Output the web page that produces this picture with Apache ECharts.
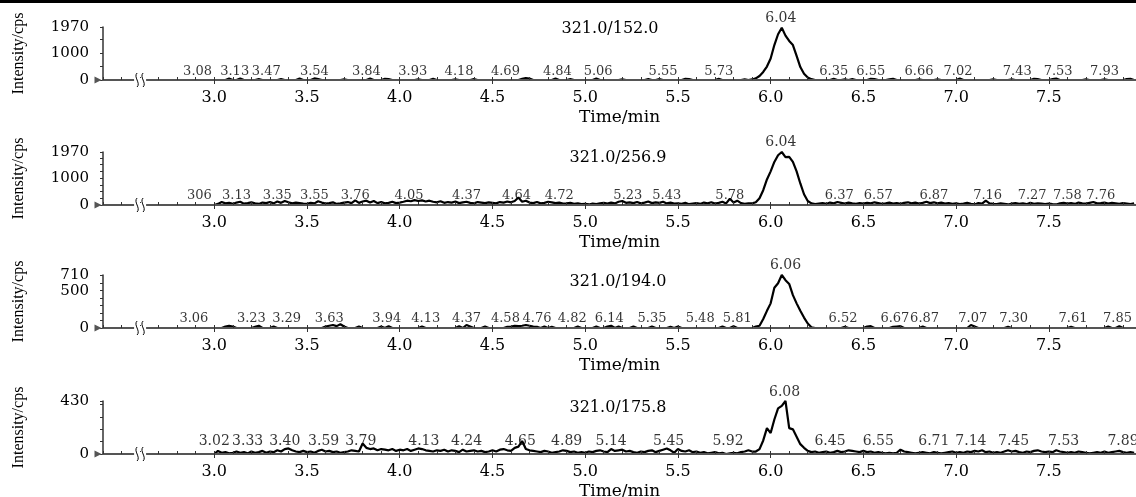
<!DOCTYPE html>
<html>
<head>
<meta charset="utf-8">
<title>MRM chromatograms</title>
<script src="https://cdn.jsdelivr.net/npm/echarts@6/dist/echarts.min.js"></script>
<style>
  html, body { margin: 0; padding: 0; background: #fff; }
  #chart { width: 1136px; height: 497px; }
</style>
</head>
<body>
<div id="chart"></div>
<script>
// acquisition: first scan at 3.00 min, one point every 0.02 min
const scanStart = 3.0;
const scanStep = 0.02;

const transitions = ['321.0/152.0', '321.0/256.9', '321.0/194.0', '321.0/175.8'];
const xLabels = [3.0, 3.5, 4.0, 4.5, 5.0, 5.5, 6.0, 6.5, 7.0, 7.5];
const yMax = [1970, 1970, 710, 430];
const yLabels1 = [0, 1000, 1970];
const yLabels2 = [0, 1000, 1970];
const yLabels3 = [0, 500, 710];
const yLabels4 = [0, 430];
const yTicks1 = [0, 500, 1000, 1500, 1970];
const yTicks2 = [0, 250, 500, 750, 1000, 1250, 1500, 1750, 1970];
const yTicks3 = [0, 100, 200, 300, 400, 500, 600, 700, 710];
const yTicks4 = [0, 100, 200, 300, 400, 430];

// intensity (cps), one row = 0.5 min
const trace1 = [
  0, 0, 0, 0, 50, 0, 0, 60, 0, 0, 0, 0, 30, 0, 0, 0, 0, 0, 30, 0, 0, 0, 0, 50, 0,
  0, 0, 60, 30, 0, 0, 0, 0, 0, 0, 20, 0, 0, 0, 0, 0, 0, 50, 0, 0, 0, 40, 30, 0, 0,
  0, 0, 0, 0, 0, 20, 0, 0, 0, 40, 0, 0, 0, 0, 0, 20, 0, 0, 0, 0, 30, 0, 0, 0, 0,
  0, 0, 0, 0, 0, 0, 0, 0, 40, 70, 50, 0, 0, 0, 0, 0, 0, 50, 0, 0, 0, 30, 0, 0, 0,
  0, 0, 0, 60, 0, 0, 0, 0, 0, 0, 20, 0, 0, 0, 0, 0, 0, 30, 0, 0, 30, 0, 0, 0, 0,
  0, 0, 40, 30, 0, 0, 0, 0, 0, 0, 0, 40, 0, 0, 0, 0, 0, 0, 20, 0, 20, 60, 150, 300, 500,
  800, 1300, 1700, 1940, 1650, 1450, 1300, 900, 480, 230, 90, 30, 0, 0, 0, 0, 0, 40, 0, 0, 20, 0, 30, 0, 0,
  0, 0, 40, 30, 0, 0, 0, 20, 40, 0, 0, 0, 0, 0, 0, 20, 0, 0, 0, 0, 20, 0, 0, 0, 0,
  0, 50, 0, 0, 0, 0, 0, 0, 0, 0, 20, 0, 0, 0, 0, 20, 0, 0, 0, 0, 0, 40, 30, 0, 0,
  0, 30, 50, 0, 0, 0, 0, 0, 0, 0, 20, 0, 0, 0, 0, 20, 0, 0, 0, 0, 0, 30, 40, 0
];
const trace2 = [
  0, 40, 110, 60, 80, 40, 90, 120, 50, 70, 100, 60, 40, 90, 70, 110, 60, 130, 80, 150, 100, 60, 90, 70, 50,
  40, 80, 60, 140, 90, 50, 70, 100, 40, 60, 90, 110, 70, 170, 80, 130, 160, 90, 150, 70, 110, 60, 80, 120, 70,
  90, 120, 160, 140, 180, 150, 170, 130, 160, 120, 100, 140, 80, 110, 90, 130, 70, 100, 120, 80, 60, 110, 90, 70, 100,
  80, 60, 110, 90, 130, 100, 150, 280, 120, 160, 90, 70, 110, 60, 80, 120, 100, 70, 90, 50, 60, 80, 40, 60, 30,
  40, 20, 50, 30, 60, 80, 50, 90, 60, 120, 150, 80, 100, 70, 110, 60, 90, 130, 70, 100, 80, 120, 60, 90, 50,
  60, 40, 80, 30, 50, 70, 40, 90, 60, 100, 50, 80, 120, 60, 230, 90, 160, 70, 40, 60, 60, 100, 250, 550, 950,
  1250, 1600, 1850, 1970, 1780, 1790, 1600, 1250, 800, 400, 150, 60, 30, 50, 70, 40, 90, 60, 110, 80, 50, 90, 60, 40, 70,
  50, 80, 60, 100, 70, 40, 60, 90, 50, 70, 40, 80, 100, 60, 90, 50, 80, 120, 70, 100, 60, 90, 50, 70, 40,
  60, 30, 50, 80, 40, 20, 70, 50, 160, 60, 40, 30, 60, 40, 20, 50, 70, 40, 60, 30, 80, 40, 60, 50, 30,
  50, 30, 20, 60, 80, 50, 70, 40, 90, 60, 50, 80, 110, 60, 70, 90, 50, 80, 60, 40, 70, 50, 30, 60
];
const trace3 = [
  0, 0, 0, 20, 30, 20, 0, 0, 0, 0, 0, 15, 30, 0, 0, 0, 20, 0, 0, 0, 0, 0, 0, 0, 0,
  0, 0, 0, 0, 0, 20, 30, 40, 25, 50, 20, 0, 0, 0, 20, 0, 0, 0, 0, 0, 20, 0, 25, 0, 0,
  0, 0, 0, 0, 0, 0, 20, 0, 0, 0, 0, 0, 0, 0, 0, 0, 25, 0, 40, 20, 0, 0, 0, 20, 0,
  0, 0, 0, 0, 15, 20, 30, 25, 30, 40, 30, 20, 15, 0, 20, 0, 15, 0, 0, 0, 0, 0, 0, 20, 0,
  0, 0, 0, 20, 0, 0, 20, 30, 0, 20, 0, 0, 0, 20, 0, 0, 0, 0, 20, 0, 0, 0, 0, 15, 0,
  20, 0, 0, 0, 0, 0, 0, 0, 0, 0, 0, 0, 20, 0, 0, 25, 0, 0, 0, 0, 0, 20, 30, 120, 230,
  330, 540, 600, 710, 640, 590, 440, 330, 230, 140, 60, 10, 0, 0, 0, 0, 0, 0, 0, 0, 15, 0, 0, 0, 0,
  0, 20, 25, 0, 0, 0, 0, 0, 15, 20, 25, 0, 0, 0, 0, 0, 20, 0, 0, 0, 0, 0, 0, 0, 0,
  0, 0, 0, 0, 40, 20, 0, 0, 0, 0, 0, 0, 0, 0, 15, 0, 0, 0, 0, 0, 0, 0, 0, 0, 0,
  0, 0, 0, 0, 0, 0, 15, 0, 0, 0, 0, 0, 0, 0, 0, 0, 20, 0, 0, 25, 0, 0, 0, 0
];
const trace4 = [
  0, 25, 10, 15, 5, 10, 20, 10, 15, 5, 20, 10, 15, 25, 10, 20, 15, 30, 20, 40, 45, 30, 20, 15, 25,
  15, 20, 10, 25, 35, 20, 25, 15, 20, 10, 15, 20, 30, 25, 20, 85, 50, 40, 45, 30, 40, 35, 30, 40, 25,
  35, 30, 40, 25, 35, 45, 40, 30, 25, 20, 30, 25, 35, 20, 30, 25, 15, 35, 20, 25, 30, 20, 25, 15, 20,
  30, 20, 35, 40, 30, 25, 50, 60, 105, 40, 30, 25, 20, 15, 25, 20, 10, 15, 20, 30, 25, 15, 20, 10, 15,
  10, 20, 15, 25, 30, 20, 15, 40, 25, 30, 35, 20, 25, 15, 10, 20, 15, 25, 30, 15, 25, 35, 45, 30, 10,
  40, 25, 20, 30, 15, 20, 10, 15, 5, 10, 15, 5, 10, 0, 5, 10, 5, 15, 20, 30, 20, 20, 40, 110, 210,
  170, 280, 370, 390, 430, 210, 200, 140, 80, 50, 25, 15, 20, 10, 15, 20, 10, 15, 25, 15, 20, 30, 25, 20, 15,
  25, 15, 20, 10, 15, 10, 5, 10, 5, 10, 35, 20, 15, 10, 5, 10, 15, 10, 5, 15, 10, 5, 10, 15, 20,
  10, 15, 10, 20, 15, 25, 20, 30, 15, 20, 10, 15, 10, 20, 30, 20, 25, 15, 10, 20, 15, 25, 30, 20, 15,
  20, 15, 30, 20, 15, 10, 15, 10, 20, 15, 10, 5, 10, 15, 10, 20, 10, 15, 20, 25, 15, 10, 15, 10
];

// retention-time tags along the baseline and where they sit on the time axis
const tags1 = ['3.08', '3.13', '3.47', '3.54', '3.84', '3.93', '4.18', '4.69', '4.84', '5.06', '5.55', '5.73', '6.35', '6.55', '6.66', '7.02', '7.43', '7.53', '7.93'];
const tagAt1 = [2.91, 3.11, 3.28, 3.54, 3.82, 4.07, 4.32, 4.57, 4.85, 5.07, 5.42, 5.72, 6.34, 6.54, 6.80, 7.01, 7.33, 7.55, 7.80];
const tags2 = ['306', '3.13', '3.35', '3.55', '3.76', '4.05', '4.37', '4.64', '4.72', '5.23', '5.43', '5.78', '6.37', '6.57', '6.87', '7.16', '7.27', '7.58', '7.76'];
const tagAt2 = [2.92, 3.12, 3.34, 3.54, 3.76, 4.05, 4.36, 4.63, 4.86, 5.23, 5.44, 5.78, 6.37, 6.58, 6.88, 7.17, 7.41, 7.60, 7.78];
const tags3 = ['3.06', '3.23', '3.29', '3.63', '3.94', '4.13', '4.37', '4.58', '4.76', '4.82', '6.14', '5.35', '5.48', '5.81', '6.52', '6.67', '6.87', '7.07', '7.30', '7.61', '7.85'];
const tagAt3 = [2.89, 3.20, 3.39, 3.62, 3.93, 4.14, 4.36, 4.57, 4.74, 4.93, 5.13, 5.36, 5.62, 5.82, 6.39, 6.67, 6.83, 7.09, 7.31, 7.63, 7.87];
const tags4 = ['3.02', '3.33', '3.40', '3.59', '3.79', '4.13', '4.24', '4.65', '4.89', '5.14', '5.45', '5.92', '6.45', '6.55', '6.71', '7.14', '7.45', '7.53', '7.89'];
const tagAt4 = [3.00, 3.18, 3.38, 3.59, 3.79, 4.13, 4.36, 4.65, 4.90, 5.14, 5.45, 5.77, 6.32, 6.58, 6.88, 7.08, 7.31, 7.58, 7.90];
const apexText = ['6.04', '6.04', '6.06', '6.08'];
const apexAt = [6.055, 6.055, 6.08, 6.075];

const serif = '"DejaVu Serif", serif';
const breakAt = 2.6;

const panels = [
    { trace: trace1, yLabels: yLabels1, yTicks: yTicks1, tags: tags1, tagAt: tagAt1, top: 27, tagGap: 1, apexGap: 1, tagSize: 13, titleX: 610, titleY: 29 },
    { trace: trace2, yLabels: yLabels2, yTicks: yTicks2, tags: tags2, tagAt: tagAt2, top: 152, tagGap: 2.5, apexGap: 2.5, tagSize: 13, titleX: 618, titleY: 158 },
    { trace: trace3, yLabels: yLabels3, yTicks: yTicks3, tags: tags3, tagAt: tagAt3, top: 275, tagGap: 2.5, apexGap: 2, tagSize: 13, titleX: 618, titleY: 282 },
    { trace: trace4, yLabels: yLabels4, yTicks: yTicks4, tags: tags4, tagAt: tagAt4, top: 401, tagGap: 5, apexGap: 1, tagSize: 14, titleX: 618, titleY: 408 }
];

const grids = [];
const xAxes = [];
const yAxes = [];
const series = [];
const graphics = [
    // heavy rule across the top
    { type: 'rect', shape: { x: 0, y: 0, width: 1136, height: 3 }, style: { fill: '#000' }, z: 10 }
];

panels.forEach((p, i) => {
    grids.push({ left: 103, right: 0, top: p.top, height: 53, outerBoundsMode: 'none' });

    xAxes.push({
        gridIndex: i, type: 'value', min: 2.4, max: 7.97, interval: 0.1, position: 'bottom', z: 5,
        axisLine: {
            lineStyle: { color: '#555', width: 2 },
            symbol: ['path://M0,0L10,0L5,10Z', 'none'],
            symbolSize: [9, 7],
            symbolOffset: [-5, 0]
        },
        axisTick: { inside: true, length: 3, lineStyle: { color: '#333' } },
        axisLabel: { customValues: xLabels, formatter: v => v.toFixed(1), margin: 10, color: '#000', fontFamily: serif, fontSize: 16 },
        splitLine: { show: false },
        name: 'Time/min', nameLocation: 'middle', nameGap: 29,
        nameTextStyle: { color: '#000', fontFamily: serif, fontSize: 17 }
    });
    // longer ticks under the labelled positions
    xAxes.push({
        gridIndex: i, type: 'value', min: 2.4, max: 7.97, position: 'bottom', z: 5,
        axisLine: { show: false },
        axisLabel: { show: false },
        splitLine: { show: false },
        axisTick: { customValues: xLabels, length: 4, lineStyle: { color: '#333' } }
    });

    yAxes.push({
        gridIndex: i, type: 'value', min: 0, max: yMax[i],
        axisLine: { show: true, lineStyle: { color: '#333', width: 1.5 } },
        axisTick: { show: true, customValues: p.yTicks, length: 3, lineStyle: { color: '#333' } },
        axisLabel: { customValues: p.yLabels, formatter: v => String(v), hideOverlap: false, margin: 14, color: '#000', fontFamily: serif, fontSize: 15 },
        splitLine: { show: false },
        name: 'Intensity/cps', nameLocation: 'middle', nameRotate: 90, nameGap: 76,
        nameTextStyle: { color: '#000', fontFamily: '"Liberation Serif", serif', fontSize: 16 }
    });

    series.push({
        type: 'line', xAxisIndex: 2 * i, yAxisIndex: i, z: 2,
        data: p.trace.map((v, k) => [scanStart + k * scanStep, v]),
        symbol: 'none',
        lineStyle: { color: '#000', width: 2.2 }
    });

    const tagData = p.tagAt.map((t, k) => ({ value: [t, 0], name: p.tags[k], label: { distance: p.tagGap, fontSize: p.tagSize } }));
    tagData.push({ value: [apexAt[i], yMax[i]], name: apexText[i], label: { distance: p.apexGap, fontSize: 14 } });
    series.push({
        type: 'scatter', xAxisIndex: 2 * i, yAxisIndex: i, z: 6,
        symbolSize: 1,
        itemStyle: { color: 'rgba(0,0,0,0)' },
        data: tagData,
        label: { show: true, position: 'top', formatter: '{b}', color: '#000', fontFamily: serif }
    });

    graphics.push({
        type: 'text', z: 10,
        x: p.titleX, y: p.titleY,
        style: { text: transitions[i], font: '16px ' + serif, fill: '#000', align: 'center', verticalAlign: 'middle', textAlign: 'center', textVerticalAlign: 'middle' }
    });
});

const chart = echarts.init(document.getElementById('chart'));
chart.setOption({
    animation: false,
    grid: grids,
    xAxis: xAxes,
    yAxis: yAxes,
    series: series,
    graphic: graphics
});

// axis break marks drawn where the time axis is interrupted
panels.forEach((p, i) => {
    const pt = chart.convertToPixel({ gridIndex: i }, [breakAt, 0]);
    const cx = pt[0];
    const cy = pt[1];
    graphics.push({ type: 'rect', z: 11, shape: { x: cx - 6, y: cy - 2, width: 12, height: 4 }, style: { fill: '#fff' } });
    [-3, 3].forEach(dx => {
        const x = cx + dx;
        graphics.push({
            type: 'bezierCurve', z: 12,
            shape: { x1: x, y1: cy + 7, cpx1: x + 4, cpy1: cy + 3, cpx2: x - 4, cpy2: cy - 3, x2: x, y2: cy - 7 },
            style: { fill: 'none', stroke: '#000', lineWidth: 1 }
        });
    });
});
chart.setOption({ graphic: graphics });
</script>
</body>
</html>
